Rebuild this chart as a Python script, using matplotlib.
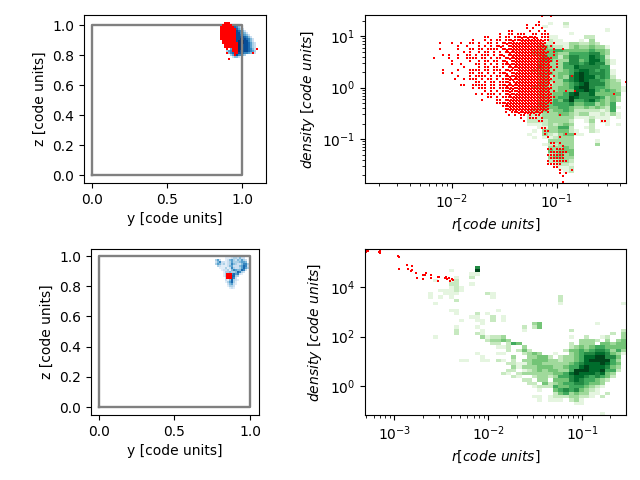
import numpy as np
import matplotlib
matplotlib.use('Agg')
import matplotlib.pyplot as plt

BOX_Y = [0, 1, 1, 0, 0]
BOX_Z = [0, 0, 1, 1, 0]

# Histogram cells are (row from top, first column, levels), '.' is an empty cell
blue_top_rows = [
    (1, 7, "64"), (2, 7, "7642"), (3, 7, "87532"), (4, 7, "887642"), (5, 7, "8886542"),
    (6, 7, "88876542"), (7, 7, "888887642"), (8, 7, "8889887642"), (9, 7, "8899988642"),
    (10, 7, "89999887532"), (11, 6, "879998887532"), (12, 5, "6789998887532"),
    (13, 5, "5789998887642"), (14, 3, "356788988887653"), (15, 3, "346778887665432"),
    (16, 5, "35686643"), (17, 6, "2442"),
]
red_top_rows = [
    (0, 2, 4), (1, 1, 5), (2, 0, 6), (3, 0, 7), (4, 0, 7), (5, 0, 7), (6, 0, 7), (7, 0, 7),
    (8, 0, 7), (9, 1, 7), (10, 1, 8), (11, 2, 8), (12, 2, 8), (13, 6, 8), (14, 6, 8), (15, 7, 8),
    (16, 7, 7), (13, 3, 3), (15, 3, 3), (13, 18, 18), (15, 16, 16), (18, 4, 4),
]
blue_low_rows = [
    (0, 6, "1112332422"), (1, 1, "352..12453243532"), (2, 1, "2462212353334554"),
    (3, 1, "35423123643224663"), (4, 2, "3211124522245762"), (5, 3, "111312632235753"),
    (6, 4, "1223146544762"), (7, 5, "13343347632"), (8, 5, "1324675621"), (9, 5, "13167733"),
    (10, 6, "245762"), (11, 6, "2147321"), (12, 6, "135731"), (13, 7, "24521"), (14, 7, "1332"),
    (15, 8, "121"),
]
red_low_y = [0.855, 0.865, 0.855, 0.865]
red_low_z = [0.862, 0.862, 0.874, 0.874]

green_top_rows = [
    (2, 31, "....1..2"), (3, 31, "...1...1"), (4, 46, "1"), (5, 39, "1"),
    (6, 35, "11.....22"), (7, 35, "211...1.3"), (8, 33, "222111332232"),
    (9, 33, "34322134334331"), (10, 32, "334455444445443"), (11, 32, "344443355556643"),
    (12, 33, "35442466557652"), (13, 33, "454333664577531"), (14, 33, "443335665676631"),
    (15, 33, "54333557666655"), (16, 32, "3343334567765651"), (17, 33, "444344578766651"),
    (18, 33, "342343679775652"), (19, 33, "3433356787665432"), (20, 33, "4423345678666433"),
    (21, 32, "334334457896554331"), (22, 33, "34334447787545431"), (23, 33, "3334457866744444"),
    (24, 33, "3434559766665343"), (25, 33, "3335468556754343"), (26, 33, "444555644553435"),
    (27, 32, "23444554334343251"), (28, 31, "23343445422222125"), (29, 31, "222333443233112131"),
    (30, 31, "2123333331112111.1"), (31, 31, "222233332..13.11"), (32, 31, "111232343...2..1.1"),
    (33, 33, "1133552..12"), (34, 32, "1.3334421..21"), (35, 31, "1..32134411"),
    (36, 32, "1.112333"), (37, 35, "33333....1"), (38, 34, "122333....3"),
    (39, 35, "33343"), (40, 35, "43444"), (41, 35, "23434"), (42, 35, "34433"),
    (43, 35, "22332"), (44, 36, "1221"), (45, 37, "112"), (46, 38, "12"),
]
# '#' one particle in the cell, '@' a crowded cell (two particles)
red_high_map = [
    "                                     #  #",
    "",
    "                                    #",
    "                                #  ##",
    "                                # #  #",
    "                          ##     #  # #",
    "                       #  ## ###  ## ###",
    "                  ##   # ## ##@#@#@@ ###",
    "              #   # # ## ##@##@@@@@@@@##",
    "   #   #  #  ## #  ## # #@#@@@@@@@@@@@#  #",
    "         #  #   # # # #@# #@@@@@@@@@@@@ #",
    "   #     #   ## ## #### #@#@@@@@@@@@@@#  #  #",
    "           # #  # ## # # #@#@@@@@@@@@@@# #",
    "    # #  #  ## # ### # #@ #@@@@@@@@@@@@  #",
    " #    #  #  #### ## # ## #@#@@@@@@@@@@@@#",
    "       #     #  # ## ## #@ #@@@@@@@@@@@@# #",
    "       #  #    ## # # # ##@#@@@@@@@@@@@@  #",
    "           #    # ## ## # #@#@@@@@@@@@@@# #",
    "    #    #   #### ## ### #@##@@@@@@@@@@@ #",
    "    #  #     ## ## # # ##@ #@@@@@@@@@@@@#",
    "         #   # #### # ## #@#@@@@@@@@@@@@ #     #",
    "        #  # ### # ## # ##@@#@@@@@@@@@@@#",
    "               ## # ## ###@ @@@@@@@@@@@@ #                       #",
    "          ##  ##### ## ##@#@#@@@@@@@@@@##",
    "              # ### ## ###@@#@@@@@@@@@@@#",
    "                  # # # ##@##@@@@@@@@@@@ #   #  #",
    "               # # ### # #@#@@@@@@@@@@@@#                    #",
    "                   ## # ###@@@@@@@@@@@@@##",
    "                 #    ## #@@@@@@@@@@@@@@#",
    "                      ###@@@@@@@@@@@@@@##",
    "                        ##@@@@@@@@@@@@@#",
    "                         #@@@@@@@@@@@@@#",
    "                         # ##@#@@@@#@# #",
    "                          # # ## # ##      #",
    "                              #  ### #",
    "                               #    ##                   ##",
    "",
    "                                     ##",
    "                                      ##",
    "                                      #      #  #",
    "                                       #   #",
    "",
    "                                        ## #",
    "                                         #  #",
    "                                       ## ###",
    "                                        ######",
    "                                       ######",
    "                                        #####",
    "                                       # #####",
    "                                       #####",
    "                                         ##",
    "                                           #   #",
    "                                           # #",
    "                                            #",
    "",
    "                                            #",
]
green_low_rows = [
    (5, 21, "6"), (6, 16, "1....9"), (7, 20, "11"), (8, 17, "1..2"), (9, 13, "1..12"),
    (10, 16, "22..1"), (11, 16, "121"), (12, 14, "11121"), (13, 12, "1..111.....21"),
    (14, 12, "1.1.1.......1"), (14, 37, "2"), (15, 17, "2"), (15, 37, "2"), (16, 13, "1"),
    (16, 37, "1"), (16, 49, "1"), (18, 16, "11.......1"), (19, 17, "1...2.1"),
    (20, 20, "11..2.1"), (21, 18, "1..11.2.1"), (22, 22, "1.........34"), (22, 44, "1"),
    (23, 17, "1...1........2.24"), (24, 17, "2....1.......1"), (24, 39, "2"), (24, 49, "2"),
    (25, 17, "2...21"), (25, 47, "2.3"), (26, 13, "1"), (26, 22, "31223"),
    (26, 39, "1..2..12..3"), (27, 23, "23343"), (27, 41, "3332.3.34"),
    (28, 24, "22.254"), (28, 39, "2.333.44344"), (29, 25, "112..3"), (29, 39, "23434554444"),
    (30, 27, "2.242"), (30, 38, "244545665353"), (31, 21, "1...11...2343..1..34566776431"),
    (32, 22, "1.....3..33442.233457788664"), (33, 18, "11..11.21.2.3344433233457889853"),
    (34, 27, "2211344333334567778754"), (35, 28, "313334443345578777643"),
    (36, 27, "22.1234344335898778552"), (37, 26, "21.2333333445797776743"),
    (38, 28, "21..2332355677656542"), (39, 30, "22.33.44467655432"),
    (40, 31, "22.423455665443"), (41, 32, "12225445554321"), (42, 33, "1..456564321"),
    (43, 36, "245343311.2"), (44, 32, "11.122233221.2"), (45, 33, "1.111.231"),
    (46, 40, "11"), (49, 45, "1"),
]
red_low_logr = [-3.294, -3.277, -3.285, -3.300, -3.170, -3.152, -3.152, -3.160, -2.965, -2.960, -2.950,
                -2.950, -2.869, -2.816, -2.858, -2.826, -2.812, -2.773, -2.663, -2.699, -2.677, -2.613,
                -2.759, -2.699, -2.610, -2.535, -2.521, -2.535, -2.454, -2.461, -2.440, -2.422, -2.390,
                -2.408, -2.379]
red_low_logd = [5.441, 5.441, 5.460, 5.420, 5.414, 5.468, 5.387, 5.430, 5.239, 5.255, 5.225,
                4.714, 4.902, 4.862, 4.741, 4.660, 4.673, 4.579, 4.579, 4.498, 4.471, 4.498,
                4.350, 4.310, 4.350, 4.418, 4.391, 4.229, 4.418, 4.350, 4.310, 4.364, 4.337,
                4.229, 4.269]


def fill_grid(rows, n_rows, n_cols):
    grid = np.full((n_rows, n_cols), np.nan)
    for row, first, levels in rows:
        for i, ch in enumerate(levels):
            if ch != '.':
                grid[row, first + i] = int(ch)
    return grid


fig = plt.figure(figsize=(6.4, 4.8), dpi=100)


def px_axes(left, top, right, bottom):
    return fig.add_axes([left / 640, 1 - bottom / 480, (right - left) / 640, (bottom - top) / 480])


# top left: box projection
ax = px_axes(84, 15, 266, 183)
xe = 0.853 + 0.01333 * np.arange(20)
ye = 1.022 - 0.01333 * np.arange(19)
ax.pcolormesh(xe, ye, fill_grid(blue_top_rows, 18, 19), cmap='Blues', vmin=0, vmax=9, zorder=1)
ax.plot(BOX_Y, BOX_Z, color='gray', lw=1.7, zorder=2)
ry, rz = [], []
for row, c0, c1 in red_top_rows:
    for c in range(c0, c1 + 1):
        ry.append(0.853 + 0.01333 * (c + 0.5))
        rz.append(1.022 - 0.01333 * (row + 0.5))
ax.scatter(ry, rz, s=4, color='red', marker='s', lw=0, zorder=3)
ax.set_xlim(-0.053, 1.16)
ax.set_ylim(-0.053, 1.067)
ax.set_xticks([0, 0.5, 1.0])
ax.set_yticks([0, 0.2, 0.4, 0.6, 0.8, 1.0])
ax.set_xlabel('y [code units]')
ax.set_ylabel('z [code units]')

# top right: density vs radius
ax = px_axes(365, 15, 626, 183)
xe = np.logspace(-2.83, -0.337, 51)
ye = np.logspace(1.41, -1.854, 51)
ax.pcolormesh(xe, ye, fill_grid(green_top_rows, 50, 50), cmap='Greens', vmin=0, vmax=8)
rr, rd = [], []
for row, line in enumerate(red_high_map):
    for c, ch in enumerate(line):
        if ch == '#':
            rr.append(10 ** (-2 + (214.5 + 9 * c - 277) / 313.5))
            rd.append(10 ** (1 + (79 - (19.5 + 9 * row)) / 154.0))
        elif ch == '@':
            for dz in (-2.2, 2.2):
                rr.append(10 ** (-2 + (214.5 + 9 * c + dz - 277) / 313.5))
                rd.append(10 ** (1 + (79 - (19.5 + 9 * row + dz)) / 154.0))
ax.scatter(rr, rd, s=3, color='red', marker='s', lw=0)
ax.set_xscale('log')
ax.set_yscale('log')
ax.set_xlim(10 ** -2.83, 10 ** -0.337)
ax.set_ylim(10 ** -1.854, 10 ** 1.41)
ax.set_xlabel(r'$r [code\ units]$')
ax.set_ylabel(r'$density\ [code\ units]$')

# bottom left: box projection
ax = px_axes(91, 249, 259, 415)
xe = 0.755 + 0.01325 * np.arange(20)
ye = 0.995 - 0.01325 * np.arange(17)
ax.pcolormesh(xe, ye, fill_grid(blue_low_rows, 16, 19), cmap='Blues', vmin=0, vmax=9, zorder=1)
ax.plot(BOX_Y, BOX_Z, color='gray', lw=1.7, zorder=2)
ax.scatter(red_low_y, red_low_z, s=5, color='red', marker='s', lw=0, zorder=3)
ax.set_xlim(-0.053, 1.06)
ax.set_ylim(-0.053, 1.047)
ax.set_xticks([0, 0.5, 1.0])
ax.set_yticks([0, 0.2, 0.4, 0.6, 0.8, 1.0])
ax.set_xlabel('y [code units]')
ax.set_ylabel('z [code units]')

# bottom right: density vs radius
ax = px_axes(365, 249, 626, 415)
xe = np.logspace(-3.314, -0.532, 51)
ye = np.logspace(5.535, -1.17, 51)
ax.pcolormesh(xe, ye, fill_grid(green_low_rows, 50, 50), cmap='Greens', vmin=0, vmax=8)
ax.scatter(10.0 ** np.array(red_low_logr), 10.0 ** np.array(red_low_logd), s=3, color='red', marker='s', lw=0)
ax.set_xscale('log')
ax.set_yscale('log')
ax.set_xlim(10 ** -3.314, 10 ** -0.532)
ax.set_ylim(10 ** -1.17, 10 ** 5.535)
ax.set_xlabel(r'$r [code\ units]$')
ax.set_ylabel(r'$density\ [code\ units]$')

fig.savefig('out.png', dpi=100)
